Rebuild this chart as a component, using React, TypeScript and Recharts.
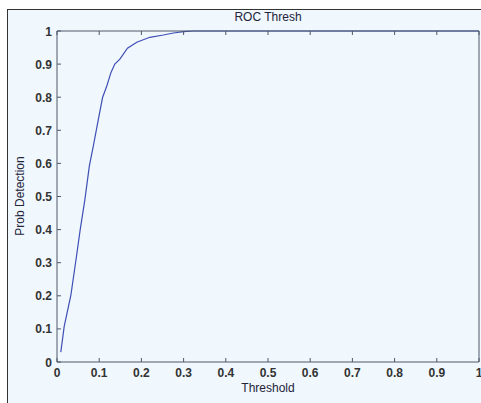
import React from 'react';
import { LineChart, Line, XAxis, YAxis } from 'recharts';

const thresholds = [0.009, 0.017, 0.033, 0.045, 0.055, 0.066, 0.0766, 0.086, 0.098, 0.108, 0.118, 0.128, 0.137, 0.149, 0.167, 0.189, 0.22, 0.252, 0.276, 0.3, 0.323, 1.0];
const probDetection = [0.03, 0.107, 0.203, 0.309, 0.4, 0.49, 0.592, 0.652, 0.733, 0.799, 0.834, 0.875, 0.9, 0.915, 0.948, 0.966, 0.981, 0.988, 0.994, 0.998, 1.0, 1.0];
const xTicks = [0, 0.1, 0.2, 0.3, 0.4, 0.5, 0.6, 0.7, 0.8, 0.9, 1];
const yTicks = [0, 0.1, 0.2, 0.3, 0.4, 0.5, 0.6, 0.7, 0.8, 0.9, 1];
const tickLabels = ['0', '0.1', '0.2', '0.3', '0.4', '0.5', '0.6', '0.7', '0.8', '0.9', '1'];

const data = thresholds.map((t, i) => ({ t, p: probDetection[i] }));

const AXIS = '#4e5868';
const TEXT = '#333333';
const FONT = '"Liberation Sans", Arial, sans-serif';
const BG = '#f0f7fd';
const LINE = '#3f4fb5';
const TL = 4;

const labelOf = (v: number) => {
  const i = xTicks.findIndex((x) => Math.abs(x - v) < 1e-9);
  return i >= 0 ? tickLabels[i] : String(v);
};

const BottomTick = (props: any) => {
  const { x, y, payload } = props;
  return (
    <g>
      <line x1={x} x2={x} y1={y} y2={y - TL} stroke={AXIS} strokeWidth={1} />
      <text x={x} y={y + 15} textAnchor="middle" fontFamily={FONT} fontSize={12} fontWeight="bold" fill={TEXT}>
        {labelOf(payload.value)}
      </text>
    </g>
  );
};

const LeftTick = (props: any) => {
  const { x, y, payload } = props;
  return (
    <g>
      <line x1={x} x2={x + TL} y1={y} y2={y} stroke={AXIS} strokeWidth={1} />
      <text x={x - 5} y={y + 4.5} textAnchor="end" fontFamily={FONT} fontSize={12} fontWeight="bold" fill={TEXT}>
        {labelOf(payload.value)}
      </text>
    </g>
  );
};

const TopTick = (props: any) => {
  const { x, y } = props;
  return <line x1={x} x2={x} y1={y} y2={y + TL} stroke={AXIS} strokeWidth={1} />;
};

const RightTick = (props: any) => {
  const { x, y } = props;
  return <line x1={x} x2={x - TL} y1={y} y2={y} stroke={AXIS} strokeWidth={1} />;
};

export default function App() {
  return (
    <div style={{ position: 'absolute', left: 0, top: 0, width: 481, height: 403, background: '#ffffff', overflow: 'hidden' }}>
      <div style={{ position: 'absolute', left: 7, top: 9, width: 520, height: 440, border: '1px solid #333', background: BG }} />
      <div style={{ position: 'absolute', left: 0, top: 0 }}>
        <LineChart width={481} height={403} data={data} margin={{ top: 30, right: 1, bottom: 11, left: 7 }}>
          <XAxis
            xAxisId="bottom"
            dataKey="t"
            type="number"
            domain={[0, 1]}
            ticks={xTicks}
            interval={0}
            height={30}
            tickSize={0}
            tickMargin={0}
            tickLine={false}
            axisLine={{ stroke: AXIS, strokeWidth: 1 }}
            tick={<BottomTick />}
          />
          <XAxis
            xAxisId="top"
            orientation="top"
            dataKey="t"
            type="number"
            domain={[0, 1]}
            ticks={xTicks}
            interval={0}
            height={1}
            tickSize={0}
            tickMargin={0}
            tickLine={false}
            axisLine={{ stroke: AXIS, strokeWidth: 1 }}
            tick={<TopTick />}
          />
          <YAxis
            yAxisId="left"
            type="number"
            domain={[0, 1]}
            ticks={yTicks}
            interval={0}
            width={50}
            tickSize={0}
            tickMargin={0}
            tickLine={false}
            axisLine={{ stroke: AXIS, strokeWidth: 1 }}
            tick={<LeftTick />}
          />
          <YAxis
            yAxisId="right"
            orientation="right"
            type="number"
            domain={[0, 1]}
            ticks={yTicks}
            interval={0}
            width={1}
            tickSize={0}
            tickMargin={0}
            tickLine={false}
            axisLine={{ stroke: AXIS, strokeWidth: 1 }}
            tick={<RightTick />}
          />
          <Line
            xAxisId="bottom"
            yAxisId="left"
            type="linear"
            dataKey="p"
            stroke={LINE}
            strokeWidth={1.2}
            dot={false}
            activeDot={false}
            isAnimationActive={false}
          />
        </LineChart>
      </div>
      <svg width={481} height={403} style={{ position: 'absolute', left: 0, top: 0, pointerEvents: 'none' }}>
        <text x={268} y={21} textAnchor="middle" fontFamily={FONT} fontSize={12} fill="#23233a">ROC Thresh</text>
        <text x={268} y={392} textAnchor="middle" fontFamily={FONT} fontSize={12} fill="#23233a">Threshold</text>
        <text x={24} y={196} textAnchor="middle" fontFamily={FONT} fontSize={12} fill="#23233a" transform="rotate(-90 24 196)">Prob Detection</text>
      </svg>
    </div>
  );
}
